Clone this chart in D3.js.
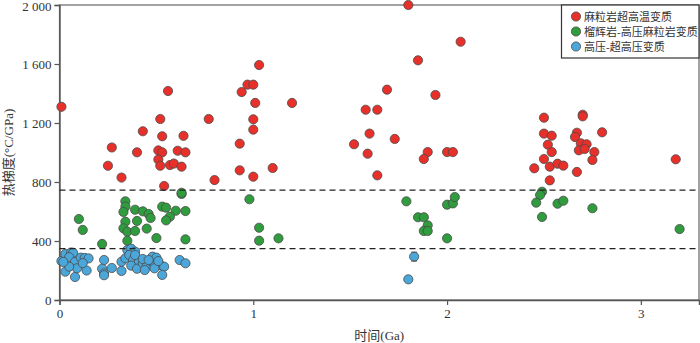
<!DOCTYPE html>
<html>
<head>
<meta charset="utf-8">
<script src="https://cdn.jsdelivr.net/npm/d3@7/dist/d3.min.js"></script>
<style>
  html, body { margin: 0; padding: 0; background: #fff; }
  svg { display: block; }
</style>
</head>
<body>
<div id="chart"></div>
<script>
// 麻粒岩超高温变质 [时间 Ga, 热梯度 °C/GPa]
var uhtPoints = [
    [0.01,1310],[0.56,1417],[0.52,1227],[0.77,1227],[0.43,1144],[0.53,1110],[0.64,1113],[0.27,1034],
    [0.40,1001],[0.51,1014],[0.53,1001],[0.61,1012],[0.65,1001],[0.51,952],[0.25,910],[0.52,910],
    [0.57,915],[0.59,925],[0.63,904],[0.32,830],[0.54,773],[0.80,813],
    [1.03,1593],[0.97,1460],[1.00,1460],[0.94,1410],[1.01,1336],[1.20,1336],[1.00,1225],[1.00,1155],
    [0.93,1060],[0.93,879],[1.10,895],[1.00,836],
    [1.80,2000],[2.07,1751],[1.85,1625],[1.69,1426],[1.94,1390],[1.58,1290],[1.64,1290],[1.60,1128],
    [1.73,1092],[1.52,1056],[1.59,992],[1.90,1003],[1.88,956],[2.00,1003],[2.03,1003],[1.64,845],
    [2.50,1236],[2.70,1256],[2.70,1245],[2.50,1128],[2.54,1114],[2.67,1134],[2.66,1105],[2.80,1137],
    [2.52,1053],[2.69,1062],[2.72,1056],[2.54,1003],[2.68,1015],[2.71,1024],[2.76,1003],[2.75,949],
    [2.50,956],[2.45,893],[2.53,904],[2.57,924],[2.60,911],[2.67,868],[2.53,811],[3.18,954]
];
// 榴辉岩-高压麻粒岩变质
var hpPoints = [
    [0.10,549],[0.12,475],[0.22,380],[0.34,669],[0.34,633],[0.33,597],[0.39,612],[0.43,601],
    [0.46,583],[0.47,556],[0.53,633],[0.55,626],[0.60,605],[0.65,603],[0.63,719],[0.63,727],
    [0.57,565],[0.55,540],[0.34,531],[0.40,536],[0.33,486],[0.35,463],[0.39,468],[0.45,484],
    [0.35,402],[0.50,420],[0.65,411],
    [0.98,683],[1.03,490],[1.03,402],[1.13,418],
    [1.79,669],[1.85,561],[1.88,561],[1.90,506],[1.88,468],[1.90,468],[2.00,418],[2.00,646],
    [2.03,655],[2.04,698],
    [2.49,734],[2.48,712],[2.46,660],[2.57,653],[2.60,673],[2.75,622],[2.49,563],[3.20,481]
];
// 高压-超高压变质
var uhpPoints = [
    [0.01,264],[0.03,312],[0.06,322],[0.07,320],[0.05,290],[0.08,258],[0.11,287],[0.13,285],
    [0.15,282],[0.03,192],[0.08,156],[0.09,215],[0.05,226],[0.14,200],[0.02,258],[0.12,250],
    [0.23,271],[0.22,212],[0.23,180],[0.23,168],[0.27,217],
    [0.32,197],[0.32,260],[0.35,339],[0.37,348],[0.39,328],[0.34,283],[0.36,305],[0.38,271],
    [0.41,260],[0.37,233],[0.40,212],[0.43,249],[0.45,233],[0.47,266],[0.48,294],[0.50,287],
    [0.49,237],[0.52,237],[0.54,226],[0.53,170],[0.44,203],[0.49,215],[0.62,271],[0.65,249],
    [0.39,305],[0.43,278],[0.46,271],[0.51,264],
    [1.83,294],[1.80,140]
];
// 误差棒 [x, y, ±]
var uhpErrors = [[1.83,294,30]];

var seriesNames = ["麻粒岩超高温变质", "榴辉岩-高压麻粒岩变质", "高压-超高压变质"];
var seriesColors = ["#e8302a", "#2f9c3e", "#4ba7da"];
var xTicks = [0, 1, 2, 3];
var yTicks = [0, 400, 800, 1200, 1600, 2000];
var thresholds = [745, 348];

var W = 700, H = 343;
var margin = {top: 5, right: 1, bottom: 43, left: 59.5};
var w = W - margin.left - margin.right,
    h = H - margin.top - margin.bottom;

var serif = "'Liberation Serif', 'Times New Roman', 'Noto Sans CJK SC', serif";
var fmt = d3.formatLocale({decimal: ".", thousands: " ", grouping: [3], currency: ["", ""]}).format(",");

var svg = d3.select("#chart").append("svg")
    .attr("width", W).attr("height", H);

var xScale = d3.scaleLinear().domain([0, 3.3]).range([0, w]);
var yScale = d3.scaleLinear().domain([0, 2000]).range([h, 0]);

var g = svg.append("g")
    .attr("transform", "translate(" + margin.left + "," + margin.top + ")");

// 边框
g.append("rect")
    .attr("width", w).attr("height", h)
    .attr("fill", "none")
    .attr("stroke", "#666")
    .attr("stroke-width", 1.2);

//x轴
var xAxis = g.append("g")
    .attr("transform", "translate(0," + h + ")")
    .call(d3.axisBottom(xScale).tickValues(xTicks).tickSize(5).tickPadding(4).tickFormat(d3.format("d")));
//y轴
var yAxis = g.append("g")
    .call(d3.axisLeft(yScale).tickValues(yTicks).tickSize(5).tickPadding(3).tickFormat(fmt));

[xAxis, yAxis].forEach(function(a) {
    a.select(".domain").attr("stroke", "#555").attr("stroke-width", 1.4);
    a.selectAll(".tick line").attr("stroke", "#555").attr("stroke-width", 1.2);
    a.selectAll(".tick text")
        .attr("fill", "#333")
        .style("font-family", serif)
        .style("font-size", "13px");
});
// 顶部刻度文字稍微下移，避免被裁切
yAxis.selectAll(".tick text").filter(d => d === 2000).attr("dy", "0.45em");

// 画点
var allSeries = [uhtPoints, hpPoints, uhpPoints];
allSeries.forEach(function(pts, i) {
    g.append("g").selectAll("circle")
        .data(pts)
        .enter()
        .append("circle")
        .attr("cx", d => xScale(d[0]))
        .attr("cy", d => yScale(d[1]))
        .attr("r", 4.6)
        .attr("fill", seriesColors[i])
        .attr("stroke", "#4a4a4a")
        .attr("stroke-width", 0.8);
});

// 误差棒
var eb = g.append("g").attr("stroke", "#555").attr("stroke-width", 1);
uhpErrors.forEach(function(d) {
    var cx = xScale(d[0]), y0 = yScale(d[1] - d[2]), y1 = yScale(d[1] + d[2]);
    eb.append("line").attr("x1", cx - 3).attr("x2", cx + 3).attr("y1", y0).attr("y2", y0);
    eb.append("line").attr("x1", cx - 3).attr("x2", cx + 3).attr("y1", y1).attr("y2", y1);
});

// 分界虚线
g.append("g").selectAll("line")
    .data(thresholds)
    .enter()
    .append("line")
    .attr("x1", 0).attr("x2", w)
    .attr("y1", d => yScale(d)).attr("y2", d => yScale(d))
    .attr("stroke", "#222")
    .attr("stroke-width", 1.3)
    .attr("stroke-dasharray", "6,4");

// 坐标轴标题
svg.append("text")
    .attr("x", margin.left + w / 2)
    .attr("y", 340)
    .attr("text-anchor", "middle")
    .attr("fill", "#333")
    .style("font-family", serif)
    .style("font-size", "13px")
    .text("时间(Ga)");

svg.append("text")
    .attr("transform", "translate(13," + (margin.top + h / 2) + ") rotate(-90)")
    .attr("text-anchor", "middle")
    .attr("fill", "#333")
    .style("font-family", serif)
    .style("font-size", "13px")
    .text("热梯度(°C/GPa)");

// 图例
var legend = svg.append("g").attr("class", "legend");
legend.append("rect")
    .attr("x", 561.5).attr("y", 5)
    .attr("width", W - 1 - 561.5).attr("height", 53)
    .attr("fill", "#fff")
    .attr("stroke", "#333")
    .attr("stroke-width", 1.2);
seriesNames.forEach(function(name, i) {
    var cy = 16.5 + i * 15;
    legend.append("circle")
        .attr("cx", 576).attr("cy", cy).attr("r", 4.6)
        .attr("fill", seriesColors[i])
        .attr("stroke", "#4a4a4a")
        .attr("stroke-width", 0.8);
    legend.append("text")
        .attr("x", 584).attr("y", cy)
        .attr("dominant-baseline", "central")
        .attr("fill", "#333")
        .style("font-family", serif)
        .style("font-size", "11px")
        .text(name);
});
</script>
</body>
</html>
